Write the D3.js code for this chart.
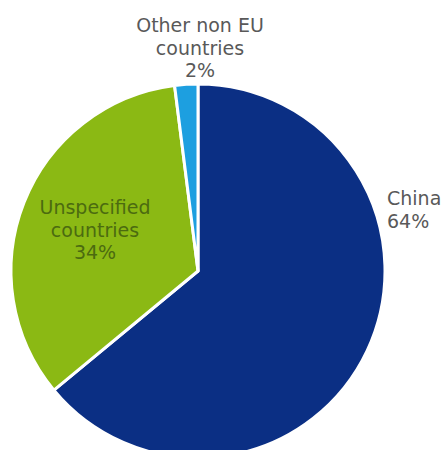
<!DOCTYPE html>
<html><head><meta charset="utf-8">
<script src="https://cdn.jsdelivr.net/npm/d3@7"></script>
<style>html,body{margin:0;padding:0;background:#fff;}svg{display:block;}</style>
</head><body>
<svg id="c" width="445" height="450"></svg>
<script>
const categories = ["China", "Unspecified countries", "Other non EU countries"];
const values = [64, 34, 2];
const colors = ["#0b2f84", "#8bb914", "#1d9fe0"];
const labelLines = [["China"], ["Unspecified", "countries"], ["Other non EU", "countries"]];

const svg = d3.select("#c");
const cx = 198, cy = 271, r = 187;
const g = svg.append("g").attr("transform", `translate(${cx},${cy})`);
const pie = d3.pie().sort(null).value(d => d)(values);
const arc = d3.arc().innerRadius(0).outerRadius(r);
g.selectAll("path").data(pie).enter().append("path")
  .attr("d", arc)
  .attr("fill", (d, i) => colors[i])
  .attr("stroke", "#fff").attr("stroke-width", 3).attr("stroke-linejoin", "round");

const font = "'DejaVu Sans', Verdana, sans-serif";
function label(lines, x, y, anchor, color) {
  const t = svg.append("text").attr("x", x).attr("y", y)
    .attr("text-anchor", anchor).attr("fill", color)
    .style("font-family", font).style("font-size", "19px");
  lines.forEach((l, i) => t.append("tspan").attr("x", x).attr("dy", i ? 22.5 : 0).text(l));
}
label([...labelLines[2], values[2] + "%"], 200, 32, "middle", "#595959");
label([...labelLines[1], values[1] + "%"], 95, 214, "middle", "#4b6b10");
label([...labelLines[0], values[0] + "%"], 387, 205, "start", "#595959");
</script>
</body></html>
